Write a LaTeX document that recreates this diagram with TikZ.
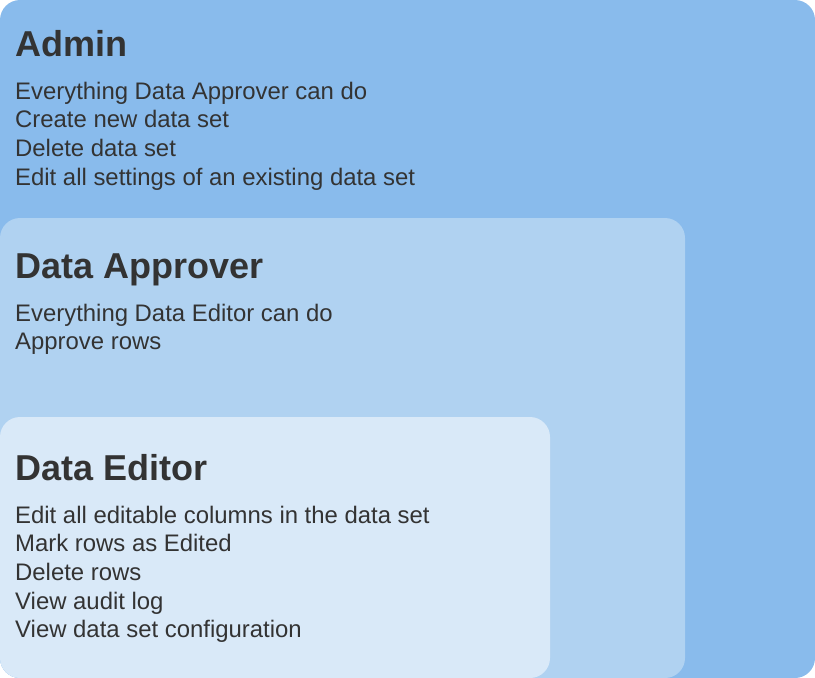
\documentclass[tikz,border=0pt]{standalone}
\usepackage{fontspec}
\setmainfont{Liberation Sans}
\definecolor{adminc}{HTML}{89BBEC}
\definecolor{apprc}{HTML}{B0D2F1}
\definecolor{editc}{HTML}{D9E9F8}
\definecolor{txt}{HTML}{333333}
\begin{document}
\begin{tikzpicture}[x=1pt,y=-1pt,
  box/.style={rounded corners=20pt},
  ttl/.style={anchor=base west,inner sep=0pt,text=txt,font=\fontsize{36}{42}\selectfont\bfseries},
  itm/.style={anchor=base west,inner sep=0pt,text=txt,font=\fontsize{23.9}{28}\selectfont}]
\useasboundingbox (0,0) rectangle (815,678);
\fill[adminc,box] (0,0) rectangle (815,678);
\fill[apprc,box] (0,218) rectangle (685,678);
\fill[editc,box] (0,417) rectangle (550,678);
\node[ttl] (t1) at (15,56) {Admin};
\node[itm] (a1) at (15,99) {Everything Data Approver can do};
\node[itm] (a2) at (15,127.7) {Create new data set};
\node[itm] (a3) at (15,156.3) {Delete data set};
\node[itm] (a4) at (15,185) {Edit all settings of an existing data set};
\node[ttl] (t2) at (15,278) {Data Approver};
\node[itm] (b1) at (15,321) {Everything Data Editor can do};
\node[itm] (b2) at (15,349.7) {Approve rows};
\node[ttl] (t3) at (15,480) {Data Editor};
\node[itm] (c1) at (15,523) {Edit all editable columns in the data set};
\node[itm] (c2) at (15,551.7) {Mark rows as Edited};
\node[itm] (c3) at (15,580.3) {Delete rows};
\node[itm] (c4) at (15,609) {View audit log};
\node[itm] (c5) at (15,637.7) {View data set configuration};
\end{tikzpicture}
\end{document}
